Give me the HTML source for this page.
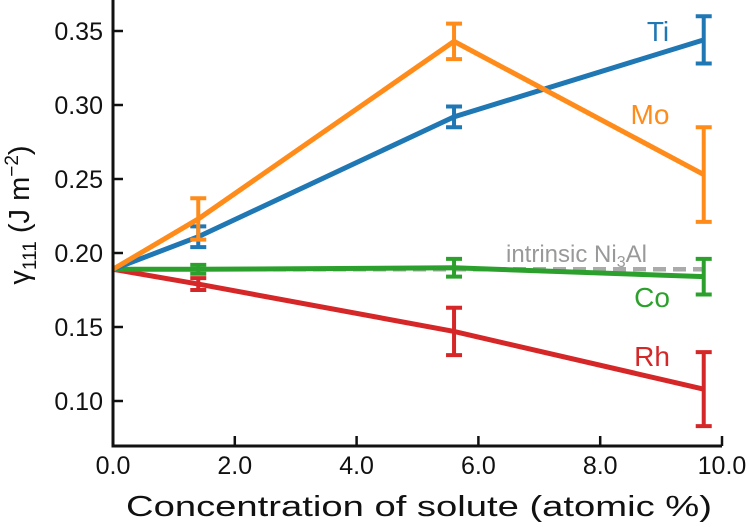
<!DOCTYPE html>
<html><head><meta charset="utf-8"><style>
body{margin:0;background:#fff}
svg{display:block;font-family:"Liberation Sans",sans-serif}
</style></head><body>
<svg id="c" width="750" height="527" viewBox="0 0 750 527"></svg>
<script>
const xs = [0, 1.4, 5.6, 9.7];
const seriesNames = ["Rh","Co","Ti","Mo"];
const tiVals = [0.189, 0.211, 0.292, 0.344];
const tiErr = [0, 0.007, 0.007, 0.016];
const moVals = [0.189, 0.223, 0.343, 0.253];
const moErr = [0, 0.014, 0.012, 0.032];
const coVals = [0.189, 0.189, 0.190, 0.184];
const coErr = [0, 0.003, 0.006, 0.012];
const rhVals = [0.189, 0.179, 0.147, 0.108];
const rhErr = [0, 0.004, 0.016, 0.025];
const intrinsic = 0.189;
const xTicks = [0,2,4,6,8,10];
const yTicks = [0.10,0.15,0.20,0.25,0.30,0.35];
const NS="http://www.w3.org/2000/svg", svg=document.getElementById('c');
const X=v=>113+v*60.9, Y=v=>31+(0.35-v)*1480;
function mk(t,a,p){const e=document.createElementNS(NS,t);for(const k in a)e.setAttribute(k,a[k]);(p||svg).appendChild(e);return e;}
const d=mk('line',{x1:X(0),x2:X(9.7),y1:Y(intrinsic),y2:Y(intrinsic),stroke:'#aaaaaa','stroke-width':4.5,'stroke-dasharray':'13,7'});


const series=[["rh",rhVals,rhErr,'#d62728'],["co",coVals,coErr,'#2ca02c'],["ti",tiVals,tiErr,'#1f77b4'],["mo",moVals,moErr,'#ff8c1a']];
series.forEach(([n,v,e,col])=>{
 const g=mk('g',{});
 
 
 mk('polyline',{points:xs.map((x,i)=>X(x)+','+Y(v[i])).join(' '),fill:'none',stroke:col,'stroke-width':5},g);
 xs.forEach((x,i)=>{ if(!e[i])return;
  const cx=X(x),t=Y(v[i]+e[i]),b=Y(v[i]-e[i]);
  mk('path',{d:`M${cx},${t}V${b}M${cx-8},${t}H${cx+8}M${cx-8},${b}H${cx+8}`,stroke:col,'stroke-width':4,fill:'none'},g);
 });
});
[["Ti",658,41,'#1f77b4'],["Mo",650,124,'#ff8c1a'],["Co",652,307,'#2ca02c'],["Rh",652,366,'#d62728']].forEach(([t,x,y,c])=>{
 const e=mk('text',{x:x,y:y,fill:c,'font-size':28,'text-anchor':'middle'});e.textContent=t;
 
 
});
const it=mk('text',{x:506,y:262,fill:'#999','font-size':24});
it.innerHTML='intrinsic Ni<tspan font-size="16" dy="5">3</tspan><tspan dy="-5">Al</tspan>';


const ax=mk('path',{d:`M113,0V446H722`,stroke:'#111','stroke-width':3,fill:'none'});


xTicks.forEach(t=>{mk('line',{x1:X(t),x2:X(t),y1:446,y2:436,stroke:'#111','stroke-width':2.5});
 const e=mk('text',{x:X(t),y:474,'font-size':25,'text-anchor':'middle',fill:'#111'});e.textContent=t.toFixed(1);
 
 });
yTicks.forEach(t=>{mk('line',{x1:113,x2:123,y1:Y(t),y2:Y(t),stroke:'#111','stroke-width':2.5});
 const e=mk('text',{x:103,y:Y(t)+9,'font-size':25,'text-anchor':'end',fill:'#111'});e.textContent=t.toFixed(2);
 
 });
const xt=mk('text',{x:126,y:516,'font-size':29,textLength:586,lengthAdjust:'spacingAndGlyphs',fill:'#111'});xt.textContent='Concentration of solute (atomic %)';


const yt=mk('text',{x:0,y:0,'font-size':29,'text-anchor':'middle',fill:'#111',transform:'translate(29,215) rotate(-90)'});
yt.innerHTML='γ<tspan font-size="19" dy="7">111</tspan><tspan dy="-7"> (J m</tspan><tspan font-size="19" dy="-11">−2</tspan><tspan dy="11">)</tspan>';


</script>
</body></html>
